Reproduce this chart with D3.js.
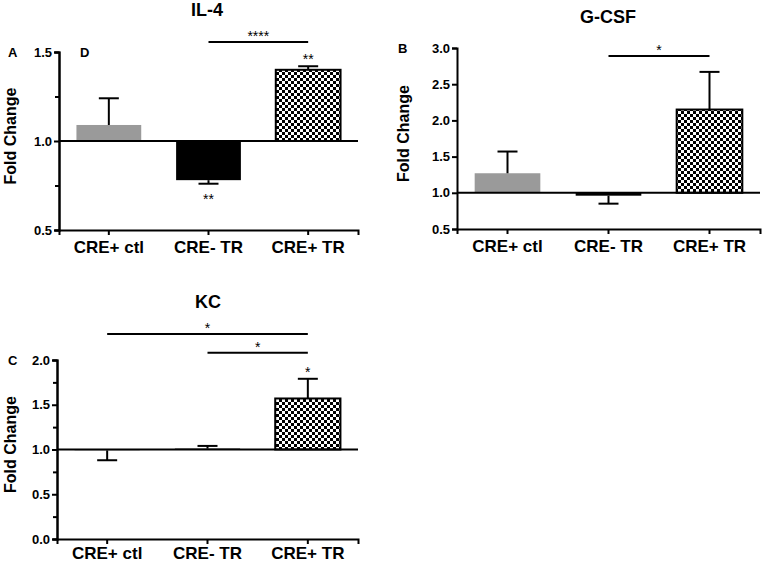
<!DOCTYPE html>
<html>
<head>
<meta charset="utf-8">
<script src="https://cdn.jsdelivr.net/npm/d3@7"></script>
<style>
  body { margin: 0; background: #fff; }
  svg { font-family: "Liberation Sans", Arial, sans-serif; font-weight: bold; }
</style>
</head>
<body>
<div id="chart"></div>
<script>
// groups on the x axis
const categories = ["CRE+ ctl", "CRE- TR", "CRE+ TR"];

// fold change means and SEM (error drawn away from 1.0)
const il4Mean = [1.09, 0.78, 1.40];
const il4Err = [0.15, 0.02, 0.02];
const gcsfMean = [1.27, 0.96, 2.15];
const gcsfErr = [0.30, 0.11, 0.52];
const kcMean = [0.99, 1.01, 1.57];
const kcErr = [0.11, 0.03, 0.22];

// y tick labels
const il4Ticks = [0.5, 1.0, 1.5];
const il4Minor = [0.75, 1.25];
const gcsfTicks = [0.5, 1.0, 1.5, 2.0, 2.5, 3.0];
const kcTicks = [0.0, 0.5, 1.0, 1.5, 2.0];
const kcMinor = [0.25, 0.75, 1.25, 1.75];

// significance brackets (group indices + level in data units) and bar stars
const il4Brackets = [{ from: 1, to: 2, level: 1.556, label: "****" }];
const il4Stars = [{ i: 1, label: "**" }, { i: 2, label: "**" }];
const gcsfBrackets = [{ from: 1, to: 2, level: 2.89, label: "*" }];
const gcsfStars = [];
const kcBrackets = [
    { from: 0, to: 2, level: 2.29, label: "*" },
    { from: 1, to: 2, level: 2.08, label: "*" }
];
const kcStars = [{ i: 2, label: "*" }];

const fills = ["#9a9a9a", "#000", "url(#checker)"];

const svg = d3.select("#chart").append("svg")
    .attr("width", 763)
    .attr("height", 564);

// checkerboard fill
const pat = svg.append("defs").append("pattern")
    .attr("id", "checker")
    .attr("patternUnits", "userSpaceOnUse")
    .attr("width", 6).attr("height", 6);
pat.append("rect").attr("width", 6).attr("height", 6).attr("fill", "#fff");
pat.append("rect").attr("width", 3).attr("height", 3).attr("fill", "#000");
pat.append("rect").attr("x", 3).attr("y", 3).attr("width", 3).attr("height", 3).attr("fill", "#000");

function drawPanel(p) {
    const x = d3.scaleBand()
        .domain(categories)
        .range([p.left, p.right])
        .paddingInner(0.35)
        .paddingOuter(0.175);

    const y = d3.scaleLinear()
        .domain(p.domain)
        .range([p.bottom, p.top]);

    const g = svg.append("g");

    // title + letters
    g.append("text")
        .attr("x", p.titleX).attr("y", p.titleY)
        .attr("text-anchor", "middle")
        .attr("font-size", 18)
        .text(p.title);
    p.letters.forEach(l => {
        g.append("text")
            .attr("x", l.x).attr("y", y(p.domain[1]) + 5)
            .attr("font-size", 13)
            .text(l.t);
    });

    g.append("text")
        .attr("transform", `translate(${p.ylabX}, ${(p.top + p.bottom) / 2 - 5}) rotate(-90)`)
        .attr("text-anchor", "middle")
        .attr("font-size", 16)
        .text("Fold Change");

    // bars
    g.selectAll("rect.bar")
        .data(p.mean)
        .enter()
        .append("rect")
        .attr("class", "bar")
        .attr("x", (d, i) => x(categories[i]))
        .attr("width", x.bandwidth())
        .attr("y", d => Math.min(y(d), y(1)))
        .attr("height", d => Math.abs(y(d) - y(1)))
        .attr("fill", (d, i) => fills[i])
        .attr("stroke", (d, i) => i === 2 ? "#000" : "none")
        .attr("stroke-width", 2);

    // error bars
    const errEnd = (d, i) => d >= 1 ? d + p.err[i] : d - p.err[i];
    const cx = i => x(categories[i]) + x.bandwidth() / 2;
    p.mean.forEach((d, i) => {
        const e = errEnd(d, i);
        g.append("line")
            .attr("x1", cx(i)).attr("x2", cx(i))
            .attr("y1", y(d)).attr("y2", y(e))
            .attr("stroke", "#000").attr("stroke-width", 2);
        g.append("line")
            .attr("x1", cx(i) - 10).attr("x2", cx(i) + 10)
            .attr("y1", y(e)).attr("y2", y(e))
            .attr("stroke", "#000").attr("stroke-width", 2);
    });

    // baseline at 1.0
    g.append("line")
        .attr("x1", p.left).attr("x2", p.right)
        .attr("y1", y(1)).attr("y2", y(1))
        .attr("stroke", "#000").attr("stroke-width", 2);

    // axes
    const yAxis = g.append("g")
        .attr("transform", `translate(${p.left},0)`)
        .call(d3.axisLeft(y).tickValues(p.ticks).tickFormat(d3.format(".1f")).tickSizeOuter(0).tickSize(5).tickPadding(2));
    if (p.minor.length) {
        g.append("g")
            .attr("transform", `translate(${p.left},0)`)
            .call(d3.axisLeft(y).tickValues(p.minor).tickFormat("").tickSizeOuter(0).tickSize(4));
    }
    const xAxis = g.append("g")
        .attr("transform", `translate(0,${p.bottom})`)
        .call(d3.axisBottom(x).tickSizeOuter(0).tickSize(5).tickPadding(p.xPad));

    g.selectAll(".domain, .tick line").attr("stroke", "#000").attr("stroke-width", 2);
    yAxis.selectAll("text").attr("font-size", 13).attr("font-weight", "bold").attr("font-family", "Liberation Sans, Arial").attr("fill", "#000");
    xAxis.selectAll("text").attr("font-size", 17).attr("font-weight", "bold").attr("font-family", "Liberation Sans, Arial").attr("fill", "#000");

    // significance brackets
    p.brackets.forEach(b => {
        const yy = y(b.level);
        g.append("line")
            .attr("x1", cx(b.from)).attr("x2", cx(b.to))
            .attr("y1", yy).attr("y2", yy)
            .attr("stroke", "#000").attr("stroke-width", 2);
        g.append("text")
            .attr("x", (cx(b.from) + cx(b.to)) / 2)
            .attr("y", yy - 1)
            .attr("text-anchor", "middle")
            .attr("font-size", 14)
            .attr("font-weight", "normal")
            .text(b.label);
    });

    p.stars.forEach(s => {
        const d = p.mean[s.i];
        const e = errEnd(d, s.i);
        const yy = d >= 1 ? y(e) - 10 : y(e) + 12;
        g.append("text")
            .attr("x", cx(s.i))
            .attr("y", yy + 8)
            .attr("text-anchor", "middle")
            .attr("font-size", 14)
            .attr("font-weight", "normal")
            .text(s.label);
    });
}

drawPanel({
    title: "IL-4", titleX: 207, titleY: 16,
    left: 59, right: 358, top: 52, bottom: 230, domain: [0.5, 1.5],
    ylabX: 16, letters: [{ x: 8, t: "A" }, { x: 80, t: "D" }], xPad: 6,
    mean: il4Mean, err: il4Err, ticks: il4Ticks, minor: il4Minor,
    brackets: il4Brackets, stars: il4Stars
});

drawPanel({
    title: "G-CSF", titleX: 608, titleY: 23,
    left: 457, right: 760, top: 48, bottom: 229, domain: [0.5, 3.0],
    ylabX: 409, letters: [{ x: 398, t: "B" }], xPad: 6,
    mean: gcsfMean, err: gcsfErr, ticks: gcsfTicks, minor: [],
    brackets: gcsfBrackets, stars: gcsfStars
});

drawPanel({
    title: "KC", titleX: 208, titleY: 308,
    left: 57, right: 358, top: 360, bottom: 539, domain: [0, 2.0],
    ylabX: 16, letters: [{ x: 8, t: "C" }], xPad: 3,
    mean: kcMean, err: kcErr, ticks: kcTicks, minor: kcMinor,
    brackets: kcBrackets, stars: kcStars
});
</script>
</body>
</html>
